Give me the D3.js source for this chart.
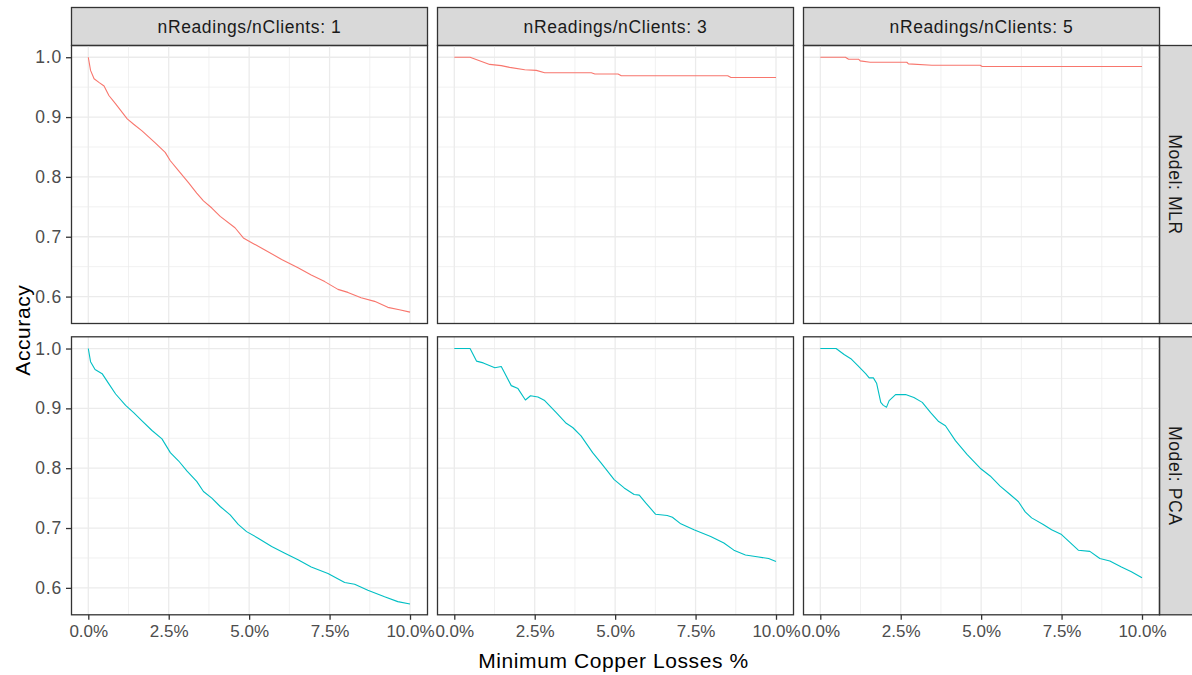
<!DOCTYPE html>
<html>
<head>
<meta charset="utf-8">
<script src="https://cdn.jsdelivr.net/npm/d3@7"></script>
<style>
  body { margin: 0; background: #fff; }
  svg { display: block; font-family: "Liberation Sans", Arial, sans-serif; }
</style>
</head>
<body>
<svg id="chart" width="1192" height="675"></svg>
<script>
// Facet levels
const readingsLevels = [1, 3, 5];
const modelLevels = ["MLR", "PCA"];
const modelColors = ["#F8766D", "#00BFC4"];

// Axis ticks (x in percent)
const xTicks = [0, 2.5, 5, 7.5, 10];
const xMinorTicks = [1.25, 3.75, 6.25, 8.75];
const yTicks = [0.6, 0.7, 0.8, 0.9, 1.0];
const yMinorTicks = [0.65, 0.75, 0.85, 0.95];

// MLR, nReadings/nClients = 1
const mlr1Loss = [0, 0.07, 0.18, 0.33, 0.49, 0.64, 0.85, 1.21, 1.41, 1.67, 2.08, 2.39, 2.55, 2.81, 3.12, 3.37, 3.58, 3.84, 4.1, 4.56, 4.82, 5.08, 5.49, 6.01, 6.52, 6.93, 7.35, 7.76, 8.07, 8.48, 8.9, 9.31, 9.67, 10];
const mlr1Acc  = [1.0, 0.978, 0.964, 0.958, 0.952, 0.936, 0.922, 0.897, 0.888, 0.877, 0.857, 0.841, 0.827, 0.81, 0.79, 0.773, 0.76, 0.748, 0.734, 0.715, 0.698, 0.69, 0.678, 0.662, 0.648, 0.636, 0.625, 0.612, 0.607, 0.598, 0.592, 0.582, 0.578, 0.574];

// MLR, nReadings/nClients = 3
const mlr3Loss = [0, 0.49, 1.1, 1.46, 1.72, 2.19, 2.55, 2.81, 4.26, 4.37, 5.09, 5.19, 8.5, 8.6, 10];
const mlr3Acc  = [1.0, 1.0, 0.988, 0.986, 0.983, 0.979, 0.978, 0.974, 0.974, 0.972, 0.972, 0.969, 0.969, 0.966, 0.966];

// MLR, nReadings/nClients = 5
const mlr5Loss = [0, 0.78, 0.88, 1.19, 1.24, 1.55, 2.69, 2.74, 3.47, 4.97, 5.03, 10];
const mlr5Acc  = [1.0, 1.0, 0.9967, 0.9967, 0.9939, 0.9916, 0.9916, 0.9889, 0.9866, 0.9866, 0.9844, 0.9844];

// PCA, nReadings/nClients = 1
const pca1Loss = [0, 0.07, 0.21, 0.43, 0.64, 0.85, 1.16, 1.41, 1.67, 1.98, 2.29, 2.55, 2.81, 3.07, 3.37, 3.58, 3.84, 4.1, 4.41, 4.66, 4.92, 5.28, 5.7, 6.11, 6.52, 6.93, 7.45, 7.97, 8.28, 8.69, 9.21, 9.62, 10];
const pca1Acc  = [1.0, 0.978, 0.965, 0.958, 0.941, 0.924, 0.905, 0.893, 0.879, 0.863, 0.849, 0.826, 0.812, 0.795, 0.778, 0.761, 0.75, 0.736, 0.722, 0.706, 0.694, 0.683, 0.669, 0.658, 0.647, 0.635, 0.624, 0.609, 0.606, 0.596, 0.585, 0.577, 0.573];

// PCA, nReadings/nClients = 3
const pca3Loss = [0, 0.49, 0.69, 0.9, 1.26, 1.46, 1.77, 1.98, 2.21, 2.37, 2.6, 2.81, 3.17, 3.48, 3.68, 3.94, 4.3, 4.56, 4.97, 5.28, 5.59, 5.75, 5.95, 6.26, 6.62, 6.78, 7.04, 7.45, 7.97, 8.38, 8.69, 9.05, 9.41, 9.77, 10];
const pca3Acc  = [1.0, 1.0, 0.979, 0.976, 0.968, 0.97, 0.938, 0.933, 0.914, 0.921, 0.919, 0.913, 0.893, 0.875, 0.868, 0.854, 0.826, 0.809, 0.781, 0.767, 0.756, 0.755, 0.742, 0.723, 0.721, 0.718, 0.707, 0.697, 0.686, 0.675, 0.663, 0.655, 0.652, 0.649, 0.644];

// PCA, nReadings/nClients = 5
const pca5Loss = [0, 0.49, 0.74, 0.95, 1.16, 1.41, 1.52, 1.65, 1.75, 1.88, 1.96, 2.06, 2.14, 2.34, 2.65, 2.91, 3.17, 3.43, 3.68, 3.89, 4.2, 4.56, 4.97, 5.28, 5.59, 5.9, 6.16, 6.37, 6.57, 6.93, 7.19, 7.5, 7.76, 8.02, 8.38, 8.69, 9.0, 9.36, 9.67, 10];
const pca5Acc  = [1.0, 1.0, 0.99, 0.983, 0.972, 0.958, 0.951, 0.951, 0.942, 0.91, 0.905, 0.902, 0.913, 0.923, 0.923, 0.918, 0.91, 0.893, 0.878, 0.871, 0.846, 0.823, 0.8, 0.787, 0.77, 0.756, 0.744, 0.727, 0.717, 0.706, 0.697, 0.689, 0.676, 0.663, 0.661, 0.649, 0.645, 0.635, 0.627, 0.617];

const seriesGrid = [
  [[mlr1Loss, mlr1Acc], [mlr3Loss, mlr3Acc], [mlr5Loss, mlr5Acc]],
  [[pca1Loss, pca1Acc], [pca3Loss, pca3Acc], [pca5Loss, pca5Acc]]
];

// Layout
const colLeft = [71.5, 437.5, 803.5];
const panelW = 356;
const rowTop = [45.5, 336.8];
const panelH = 278;
const stripTop = 7.5;
const stripRightW = 38;

const svg = d3.select("#chart");

const x = d3.scaleLinear().domain([-0.522, 10.544]);
const yDomain = [0.555, 1.0196];

const grey20 = "#333333";
const gridCol = "#EBEBEB";
const fontFam = "Liberation Sans, Arial, sans-serif";

readingsLevels.forEach((r, c) => {
  // top strip
  const g = svg.append("g");
  g.append("rect")
    .attr("x", colLeft[c]).attr("y", stripTop)
    .attr("width", panelW).attr("height", rowTop[0] - stripTop)
    .attr("fill", "#D9D9D9").attr("stroke", grey20).attr("stroke-width", 1.3);
  g.append("text")
    .attr("x", colLeft[c] + panelW / 2).attr("y", (stripTop + rowTop[0]) / 2)
    .attr("text-anchor", "middle").attr("dominant-baseline", "central")
    .attr("font-size", 17.5).attr("letter-spacing", 0.6).attr("fill", "#1A1A1A")
    .text(`nReadings/nClients: ${r}`);
});

modelLevels.forEach((m, ri) => {
  // right strip
  const sx = colLeft[2] + panelW;
  svg.append("rect")
    .attr("x", sx).attr("y", rowTop[ri])
    .attr("width", stripRightW).attr("height", panelH)
    .attr("fill", "#D9D9D9").attr("stroke", grey20).attr("stroke-width", 1.3);
  svg.append("text")
    .attr("transform", `translate(${sx + 15},${rowTop[ri] + panelH / 2}) rotate(90)`)
    .attr("text-anchor", "middle").attr("dominant-baseline", "central")
    .attr("font-size", 17.5).attr("letter-spacing", 0.6).attr("fill", "#1A1A1A")
    .text(`Model: ${m}`);
});

modelLevels.forEach((m, ri) => {
  readingsLevels.forEach((r, ci) => {
    const px = x.copy().range([colLeft[ci], colLeft[ci] + panelW]);
    const py = d3.scaleLinear().domain(yDomain).range([rowTop[ri] + panelH, rowTop[ri]]);
    const g = svg.append("g");

    // minor grid
    g.selectAll(".xminor").data(xMinorTicks).join("line")
      .attr("x1", d => px(d)).attr("x2", d => px(d))
      .attr("y1", rowTop[ri]).attr("y2", rowTop[ri] + panelH)
      .attr("stroke", gridCol).attr("stroke-width", 0.7);
    g.selectAll(".yminor").data(yMinorTicks).join("line")
      .attr("y1", d => py(d)).attr("y2", d => py(d))
      .attr("x1", colLeft[ci]).attr("x2", colLeft[ci] + panelW)
      .attr("stroke", gridCol).attr("stroke-width", 0.7);
    // major grid
    g.selectAll(".xmajor").data(xTicks).join("line")
      .attr("x1", d => px(d)).attr("x2", d => px(d))
      .attr("y1", rowTop[ri]).attr("y2", rowTop[ri] + panelH)
      .attr("stroke", gridCol).attr("stroke-width", 1.3);
    g.selectAll(".ymajor").data(yTicks).join("line")
      .attr("y1", d => py(d)).attr("y2", d => py(d))
      .attr("x1", colLeft[ci]).attr("x2", colLeft[ci] + panelW)
      .attr("stroke", gridCol).attr("stroke-width", 1.3);

    // data line
    const [lx, ly] = seriesGrid[ri][ci];
    const pts = lx.map((v, i) => [v, ly[i]]);
    g.append("path")
      .datum(pts)
      .attr("fill", "none")
      .attr("stroke", modelColors[ri])
      .attr("stroke-width", 1.1)
      .attr("stroke-linejoin", "round")
      .attr("d", d3.line().x(d => px(d[0])).y(d => py(d[1])));

    // panel border
    g.append("rect")
      .attr("x", colLeft[ci]).attr("y", rowTop[ri])
      .attr("width", panelW).attr("height", panelH)
      .attr("fill", "none").attr("stroke", grey20).attr("stroke-width", 1.3);

    // left axis on first column
    if (ci === 0) {
      const ax = g.append("g")
        .attr("transform", `translate(${colLeft[ci]},0)`)
        .call(d3.axisLeft(py).tickValues(yTicks).tickFormat(d3.format(".1f")).tickSize(5.5).tickPadding(4));
      ax.select(".domain").remove();
      ax.selectAll(".tick line").attr("stroke", grey20).attr("stroke-width", 1.3);
      ax.selectAll(".tick text").attr("fill", "#4D4D4D").attr("font-size", 17.5)
        .attr("letter-spacing", 0.8).attr("font-family", fontFam);
    }
    // bottom axis on second row
    if (ri === 1) {
      const ax = g.append("g")
        .attr("transform", `translate(0,${rowTop[ri] + panelH})`)
        .call(d3.axisBottom(px).tickValues(xTicks).tickFormat(d => d3.format(".1f")(d) + "%").tickSize(5).tickPadding(5));
      ax.select(".domain").remove();
      ax.selectAll(".tick line").attr("stroke", grey20).attr("stroke-width", 1.3);
      ax.selectAll(".tick text").attr("fill", "#4D4D4D").attr("font-size", 17)
        .attr("font-family", fontFam);
    }
  });
});

// axis titles
svg.append("text")
  .attr("x", (colLeft[0] + colLeft[2] + panelW) / 2 - 2).attr("y", 668)
  .attr("text-anchor", "middle").attr("font-size", 21).attr("letter-spacing", 0.6).attr("fill", "#000")
  .text("Minimum Copper Losses %");
svg.append("text")
  .attr("transform", `translate(30,${(rowTop[0] + rowTop[1] + panelH) / 2}) rotate(-90)`)
  .attr("text-anchor", "middle").attr("font-size", 21).attr("letter-spacing", 0.6).attr("fill", "#000")
  .text("Accuracy");
</script>
</body>
</html>
